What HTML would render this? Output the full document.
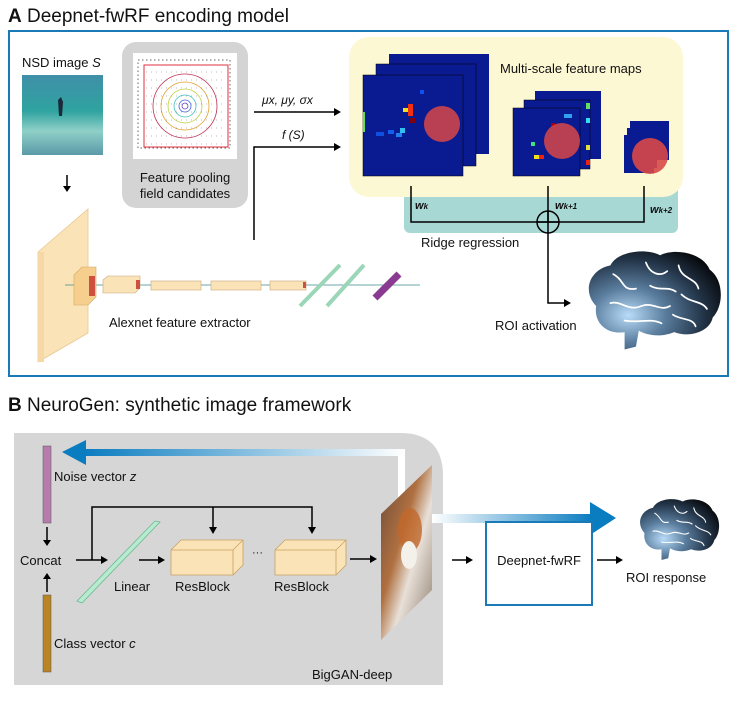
<!DOCTYPE html>
<html><head><meta charset="utf-8"><style>
html,body{margin:0;padding:0;background:#fff}
svg{display:block}
text{font-family:"Liberation Sans",sans-serif;fill:#111}
</style></head><body>
<svg width="737" height="701" viewBox="0 0 737 701" xmlns="http://www.w3.org/2000/svg">
<defs>
<radialGradient id="bg" cx="0.3" cy="0.65" r="0.8">
<stop offset="0" stop-color="#b8dcf8"/><stop offset="0.35" stop-color="#5a7d9e"/><stop offset="0.7" stop-color="#24364a"/><stop offset="1" stop-color="#050608"/></radialGradient>
<g id="brain">
<path d="M10,40 C0,30 5,15 20,12 C25,2 45,0 55,5 C65,0 85,3 90,15 C100,22 100,40 92,48 C90,58 75,62 65,58 C55,62 45,60 40,57 L38,68 L30,70 L30,58 C18,60 8,52 10,40 Z" fill="url(#bg)"/>
<g fill="none" stroke="#fff" stroke-width="1.2" stroke-linecap="round">
<path d="M22,18 C30,22 28,30 38,28"/><path d="M45,10 C48,18 55,20 60,16"/><path d="M68,12 C70,22 80,20 82,28"/><path d="M20,38 C28,36 32,44 42,40 C50,37 55,44 62,40"/><path d="M70,32 C76,38 84,36 88,42"/><path d="M48,26 C55,30 60,26 66,30"/><path d="M30,50 C40,52 48,48 56,52"/><path d="M64,46 C70,50 78,48 80,54"/></g>
</g>
<linearGradient id="ga" x1="1" y1="0" x2="0" y2="0"><stop offset="0" stop-color="#fff"/><stop offset="1" stop-color="#0a7cc0"/></linearGradient>
<linearGradient id="gb" x1="0" y1="0" x2="1" y2="0"><stop offset="0" stop-color="#fff"/><stop offset="1" stop-color="#0a7cc0"/></linearGradient>
<linearGradient id="sea" x1="0" y1="0" x2="0" y2="1"><stop offset="0" stop-color="#3f8fa8"/><stop offset="0.45" stop-color="#2fa3a0"/><stop offset="0.7" stop-color="#8fd0c8"/><stop offset="1" stop-color="#5a9aa8"/></linearGradient>
<linearGradient id="dog" x1="0" y1="0" x2="1" y2="1"><stop offset="0" stop-color="#6a4a3a"/><stop offset="0.4" stop-color="#b07040"/><stop offset="0.6" stop-color="#e8e0d8"/><stop offset="1" stop-color="#8a7a6a"/></linearGradient>
</defs>

<!-- Panel A -->
<text x="8" y="22" font-size="19"><tspan font-weight="bold">A</tspan> Deepnet-fwRF encoding model</text>
<rect x="9" y="31" width="719" height="345" fill="none" stroke="#1a7ab8" stroke-width="2"/>

<text x="22" y="67" font-size="13">NSD image <tspan font-style="italic">S</tspan></text>
<rect x="22" y="75" width="81" height="80" fill="url(#sea)"/>
<path d="M58,100 l3,-3 l2,5 l-1,14 l-3,0z" fill="#1a2a3a"/>
<line x1="67" y1="175" x2="67" y2="190" stroke="#000" stroke-width="1.5"/><path d="M63,186 L67,192 L71,186z" fill="#000"/>

<rect x="122" y="42" width="126" height="166" rx="14" fill="#d4d4d4"/>
<rect x="133" y="53" width="104" height="106" fill="#fff"/>
<rect x="138" y="60" width="92" height="88" fill="none" stroke="#666" stroke-width="1" stroke-dasharray="1.5,2.5"/>
<rect x="144" y="65" width="84" height="82" fill="none" stroke="#e03040" stroke-width="1"/>
<g fill="none" stroke-width="0.8">
<circle cx="185" cy="106" r="32" stroke="#c03050"/><circle cx="185" cy="106" r="24" stroke="#e0a030"/><circle cx="185" cy="106" r="17" stroke="#c0d040"/><circle cx="185" cy="106" r="11" stroke="#40c0c0"/><circle cx="185" cy="106" r="6" stroke="#4060e0"/><circle cx="185" cy="106" r="3" stroke="#6040c0"/></g>
<g fill="none" stroke="#555" stroke-width="0.6" stroke-dasharray="1,4" opacity="0.8">
<path d="M146,72 H226 M146,80 H226 M146,88 H226 M146,96 H226 M146,104 H226 M146,112 H226 M146,120 H226 M146,128 H226 M146,136 H226 M146,144 H226"/></g>
<text x="185" y="182" font-size="13" text-anchor="middle">Feature pooling</text>
<text x="185" y="198" font-size="13" text-anchor="middle">field candidates</text>

<line x1="254" y1="112" x2="336" y2="112" stroke="#000" stroke-width="1.5"/><path d="M334,108 L341,112 L334,116z" fill="#000"/>
<text x="262" y="104" font-size="12" font-style="italic">μx, μy, σx</text>
<path d="M254,240 V147 H336" fill="none" stroke="#000" stroke-width="1.5"/><path d="M334,143 L341,147 L334,151z" fill="#000"/>
<text x="282" y="139" font-size="12" font-style="italic">f (S)</text>

<rect x="404" y="180" width="274" height="53" rx="6" fill="#a8d8d4"/>
<rect x="349" y="37" width="334" height="160" rx="20" fill="#fdf8d4"/>
<text x="500" y="73" font-size="13">Multi-scale feature maps</text>

<g>
<rect x="389" y="54" width="100" height="100" fill="#0a1a90"/>
<rect x="376" y="64" width="100" height="102" fill="#0a1a90" stroke="#000" stroke-width="0.5"/>
<rect x="363" y="75" width="100" height="101" fill="#0a1a90" stroke="#000" stroke-width="0.5"/>
<rect x="403" y="108" width="5" height="4" fill="#f0e020"/><rect x="408" y="104" width="5" height="12" fill="#f03010"/><rect x="410" y="118" width="5" height="5" fill="#800010"/><rect x="400" y="128" width="5" height="5" fill="#30c0f0"/><rect x="396" y="133" width="6" height="4" fill="#2080f0"/><rect x="376" y="132" width="8" height="4" fill="#1050e0"/><rect x="363" y="112" width="2" height="20" fill="#60e060"/><rect x="420" y="90" width="4" height="4" fill="#1050f0"/><rect x="388" y="130" width="6" height="4" fill="#1060f0"/>
<circle cx="442" cy="124" r="18" fill="#d84848" opacity="0.85"/>
</g>
<g>
<rect x="535" y="91" width="66" height="68" fill="#0a1a90"/>
<rect x="524" y="100" width="66" height="69" fill="#0a1a90" stroke="#000" stroke-width="0.5"/>
<rect x="513" y="108" width="67" height="68" fill="#0a1a90" stroke="#000" stroke-width="0.5"/>
<rect x="586" y="103" width="4" height="6" fill="#60e060"/><rect x="586" y="118" width="4" height="5" fill="#30e0f0"/><rect x="586" y="145" width="4" height="5" fill="#e0e040"/><rect x="531" y="142" width="4" height="4" fill="#40e080"/><rect x="534" y="155" width="5" height="4" fill="#f0e020"/><rect x="539" y="155" width="5" height="4" fill="#f02010"/><rect x="551" y="123" width="4" height="4" fill="#a00010"/><rect x="564" y="114" width="8" height="4" fill="#30a0f0"/><rect x="586" y="160" width="4" height="5" fill="#f02010"/>
<circle cx="562" cy="141" r="18" fill="#d84848" opacity="0.85"/>
</g>
<g>
<rect x="630" y="121" width="39" height="39" fill="#0a1a90"/>
<rect x="627" y="128" width="30" height="40" fill="#0a1a90"/>
<rect x="624" y="135" width="30" height="38" fill="#0a1a90"/>
<circle cx="650" cy="156" r="18" fill="#d84848" opacity="0.9"/>
</g>

<g stroke="#000" stroke-width="1.5" fill="none">
<path d="M411,186 V222 H644 V186"/><line x1="548" y1="186" x2="548" y2="222"/>
<circle cx="548" cy="222" r="11"/><line x1="537" y1="222" x2="559" y2="222"/>
<path d="M548,211 V303 H566"/></g>
<path d="M564,299 L571,303 L564,307z" fill="#000"/>
<text x="415" y="209" font-size="11" font-weight="bold" font-style="italic">w<tspan font-size="8">k</tspan></text>
<text x="555" y="209" font-size="11" font-weight="bold" font-style="italic">w<tspan font-size="8">k+1</tspan></text>
<text x="650" y="213" font-size="11" font-weight="bold" font-style="italic">w<tspan font-size="8">k+2</tspan></text>
<text x="421" y="247" font-size="13">Ridge regression</text>
<text x="495" y="330" font-size="13">ROI activation</text>
<use href="#brain" transform="translate(582,248) scale(1.42,1.45)"/>

<!-- Alexnet -->
<polygon points="38,252 88,209 88,333 38,362" fill="#fbe3b8" stroke="#e8c890" stroke-width="0.8"/>
<polygon points="38,252 44,252 44,362 38,362" fill="#f6d8a6"/>
<line x1="65" y1="285" x2="420" y2="285" stroke="#3a8a8a" stroke-width="0.8"/>
<polygon points="74,275 82,267 96,267 96,297 88,305 74,305" fill="#f6cf8e" stroke="#d0a860" stroke-width="0.6"/>
<rect x="89" y="276" width="6" height="20" fill="#d05040"/>
<polygon points="103,280 108,276 140,276 140,288 135,293 103,293" fill="#fbe3b8" stroke="#c8a878" stroke-width="0.6"/><rect x="136" y="280" width="4" height="9" fill="#d05040"/>
<rect x="151" y="281" width="50" height="9" fill="#fbe3b8" stroke="#c8a878" stroke-width="0.6"/>
<rect x="211" y="281" width="50" height="9" fill="#fbe3b8" stroke="#c8a878" stroke-width="0.6"/>
<rect x="270" y="281" width="36" height="9" fill="#fbe3b8" stroke="#c8a878" stroke-width="0.6"/><rect x="303" y="282" width="3" height="6" fill="#d05040"/>
<line x1="300" y1="306" x2="340" y2="265" stroke="#9cd6b8" stroke-width="4"/>
<line x1="327" y1="306" x2="364" y2="265" stroke="#9cd6b8" stroke-width="4"/>
<line x1="375" y1="298" x2="399" y2="274" stroke="#8a3a90" stroke-width="7"/>
<text x="109" y="327" font-size="13">Alexnet feature extractor</text>

<!-- Panel B -->
<text x="8" y="411" font-size="19"><tspan font-weight="bold">B</tspan> NeuroGen: synthetic image framework</text>
<path d="M14,433 H400 Q443,433 443,476 V685 H14 Z" fill="#d6d6d6"/>
<rect x="43" y="446" width="8" height="77" fill="#b77cae" stroke="#555" stroke-width="0.5"/>
<rect x="43" y="595" width="8" height="77" fill="#b98424" stroke="#555" stroke-width="0.5"/>
<text x="54" y="481" font-size="13">Noise vector <tspan font-style="italic">z</tspan></text>
<text x="54" y="648" font-size="13">Class vector <tspan font-style="italic">c</tspan></text>
<text x="20" y="565" font-size="13">Concat</text>
<line x1="47" y1="527" x2="47" y2="542" stroke="#000" stroke-width="1.5"/><path d="M43,540 L47,546 L51,540z" fill="#000"/>
<line x1="47" y1="592" x2="47" y2="577" stroke="#000" stroke-width="1.5"/><path d="M43,579 L47,573 L51,579z" fill="#000"/>
<rect x="398" y="449" width="7" height="55" fill="#fff"/>
<rect x="84" y="449" width="321" height="7" fill="url(#ga)"/>
<path d="M86,440 L62,452 L86,465z" fill="#0a7cc0"/>

<g stroke="#000" stroke-width="1.5" fill="none">
<path d="M76,560 H103"/><path d="M92,560 V507 H312 V529"/><path d="M213,507 V529"/>
<path d="M139,560 H160"/><path d="M350,559 H372"/></g>
<g fill="#000"><path d="M101,556 L108,560 L101,564z"/><path d="M209,527 L213,534 L217,527z"/><path d="M308,527 L312,534 L316,527z"/><path d="M158,556 L165,560 L158,564z"/><path d="M370,555 L377,559 L370,563z"/></g>
<polygon points="77,601 155,521 160,522 82,603" fill="#b8ead0" stroke="#6ab890" stroke-width="0.8"/>
<text x="114" y="591" font-size="13">Linear</text>
<g fill="#fbe3b8" stroke="#c8a060" stroke-width="0.8">
<polygon points="171,550 181,540 243,540 243,565 233,575 171,575"/><line x1="171" y1="550" x2="233" y2="550"/><line x1="233" y1="550" x2="243" y2="540"/><line x1="233" y1="550" x2="233" y2="575"/>
<polygon points="275,550 285,540 346,540 346,565 336,575 275,575"/><line x1="275" y1="550" x2="336" y2="550"/><line x1="336" y1="550" x2="346" y2="540"/><line x1="336" y1="550" x2="336" y2="575"/></g>
<text x="175" y="591" font-size="13">ResBlock</text>
<text x="274" y="591" font-size="13">ResBlock</text>
<text x="252" y="556" font-size="11">···</text>
<polygon points="381,514 432,465 432,590 381,640" fill="url(#dog)"/>
<ellipse cx="410" cy="530" rx="12" ry="22" fill="#c0682a" opacity="0.8"/><ellipse cx="409" cy="555" rx="8" ry="14" fill="#f4f0ea"/>
<text x="312" y="679" font-size="13">BigGAN-deep</text>

<rect x="432" y="514" width="160" height="9" fill="url(#gb)"/>
<path d="M590,502 L616,518 L590,535z" fill="#0a7cc0"/>
<line x1="452" y1="560" x2="468" y2="560" stroke="#000" stroke-width="1.5"/><path d="M466,556 L473,560 L466,564z" fill="#000"/>
<rect x="486" y="522" width="106" height="83" fill="#fff" stroke="#1a7ab8" stroke-width="2"/>
<text x="539" y="565" font-size="13" text-anchor="middle">Deepnet-fwRF</text>
<line x1="597" y1="560" x2="618" y2="560" stroke="#000" stroke-width="1.5"/><path d="M616,556 L623,560 L616,564z" fill="#000"/>
<use href="#brain" transform="translate(636,497) scale(0.85,0.9)"/>
<text x="626" y="582" font-size="13">ROI response</text>
</svg>
</body></html>
